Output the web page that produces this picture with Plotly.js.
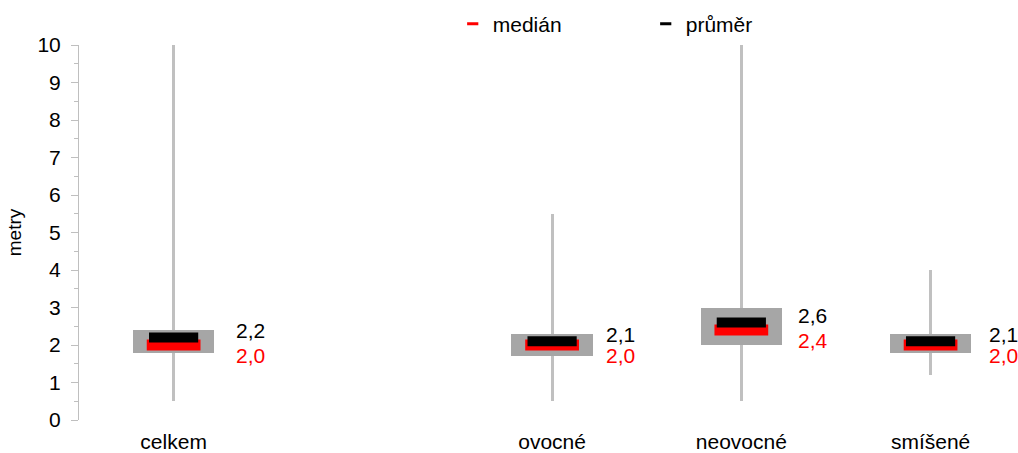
<!DOCTYPE html>
<html>
<head>
<meta charset="utf-8">
<script src="https://cdn.plot.ly/plotly-3.0.1.min.js"></script>
<style>html,body{margin:0;padding:0;background:#fff;}#chart{width:1018px;height:453px;}</style>
</head>
<body>
<div id="chart"></div>
<script>
// Data (empty slot between "celkem" and "ovocné")
const categories = ['celkem', '', 'ovocné', 'neovocné', 'smíšené'];
const minVals    = [0.5, null, 0.5, 0.5, 1.2];
const q1Vals     = [1.8, null, 1.7, 2.0, 1.8];
const q3Vals     = [2.4, null, 2.3, 3.0, 2.3];
const maxVals    = [10,  null, 5.5, 10,  4.0];
const medianVals = [2.0, null, 2.0, 2.4, 2.0];
const meanVals   = [2.2, null, 2.1, 2.6, 2.1];
const medianLabels = ['2,0', '', '2,0', '2,4', '2,0'];
const meanLabels   = ['2,2', '', '2,1', '2,6', '2,1'];
const yTicks = [0,1,2,3,4,5,6,7,8,9,10];

const FONT = '"Liberation Sans", Arial, sans-serif';
const labelXShift = [60, 0, 52, 55, 56];   // style: pixel offset of value labels
const idx = categories.map((c, i) => i);
const valid = idx.filter(i => medianVals[i] !== null);

function segs(vals, half) {
  const x = [], y = [];
  valid.forEach(i => { x.push(i - half, i + half, null); y.push(vals[i], vals[i], null); });
  return {x, y};
}

const whisker = {
  type: 'bar', x: valid, base: valid.map(i => minVals[i]),
  y: valid.map(i => maxVals[i] - minVals[i]), width: 0.016,
  marker: {color: '#c0c0c0', line: {width: 0}}, showlegend: false, hoverinfo: 'skip'
};
const box = {
  type: 'bar', x: valid, base: valid.map(i => q1Vals[i]),
  y: valid.map(i => q3Vals[i] - q1Vals[i]), width: 0.43,
  marker: {color: '#a6a6a6', line: {width: 0}}, showlegend: false, hoverinfo: 'skip'
};
const ms = segs(medianVals, 0.142);
const median = {type: 'scatter', mode: 'lines', x: ms.x, y: ms.y,
  line: {color: '#ff0000', width: 11}, showlegend: false, hoverinfo: 'skip'};
const mn = segs(meanVals, 0.13);
const mean = {type: 'scatter', mode: 'lines', x: mn.x, y: mn.y,
  line: {color: '#000000', width: 10}, showlegend: false, hoverinfo: 'skip'};

const legMedian = {type: 'scatter', mode: 'markers', x: [null], y: [null], name: 'medián',
  marker: {symbol: 'line-ew', size: 8, color: '#ff0000', line: {color: '#ff0000', width: 3}}};
const legMean = {type: 'scatter', mode: 'markers', x: [null], y: [null], name: 'průměr',
  marker: {symbol: 'line-ew', size: 8, color: '#000000', line: {color: '#000000', width: 3}}};

const annotations = [];
valid.forEach(i => {
  annotations.push({x: i, y: meanVals[i], xref: 'x', yref: 'y', text: meanLabels[i],
    showarrow: false, xanchor: 'left', yanchor: 'middle', xshift: labelXShift[i], yshift: 7,
    font: {family: FONT, size: 21, color: '#000000'}});
  annotations.push({x: i, y: medianVals[i], xref: 'x', yref: 'y', text: medianLabels[i],
    showarrow: false, xanchor: 'left', yanchor: 'middle', xshift: labelXShift[i], yshift: -10,
    font: {family: FONT, size: 21, color: '#ff0000'}});
});

const layout = {
  width: 1018, height: 453,
  margin: {l: 79, r: 0, t: 45, b: 33},
  paper_bgcolor: '#ffffff', plot_bgcolor: '#ffffff',
  font: {family: FONT, size: 20, color: '#000000'},
  barmode: 'overlay', bargap: 0,
  showlegend: true,
  legend: {orientation: 'h', x: 0.398, xanchor: 'left', y: 1.056, yanchor: 'middle',
    font: {family: FONT, size: 21, color: '#000000'}, entrywidth: 148, entrywidthmode: 'pixels',
    bgcolor: 'rgba(0,0,0,0)', itemclick: false},
  xaxis: {
    range: [-0.5, 4.462], tickmode: 'array', tickvals: valid, ticktext: valid.map(i => categories[i]),
    showgrid: false, zeroline: false, showline: false, ticks: '', ticklabelstandoff: 7,
    tickfont: {family: FONT, size: 21, color: '#000000'}, fixedrange: true
  },
  yaxis: {
    range: [0, 10], tickmode: 'array', tickvals: yTicks, ticktext: yTicks.map(String),
    showgrid: false, zeroline: false, showline: true, linecolor: '#bfbfbf', linewidth: 1,
    ticks: 'outside', ticklen: 7, tickcolor: '#bfbfbf', ticklabelstandoff: 6,
    minor: {dtick: 0.5, ticks: 'outside', ticklen: 4, tickcolor: '#bfbfbf', showgrid: false},
    tickfont: {family: FONT, size: 21, color: '#000000'},
    title: {text: 'metry', font: {family: FONT, size: 19, color: '#000000'}, standoff: 10},
    fixedrange: true
  },
  annotations: annotations
};

Plotly.newPlot('chart', [whisker, box, median, mean, legMedian, legMean], layout,
  {displayModeBar: false, staticPlot: true});
</script>
</body>
</html>
